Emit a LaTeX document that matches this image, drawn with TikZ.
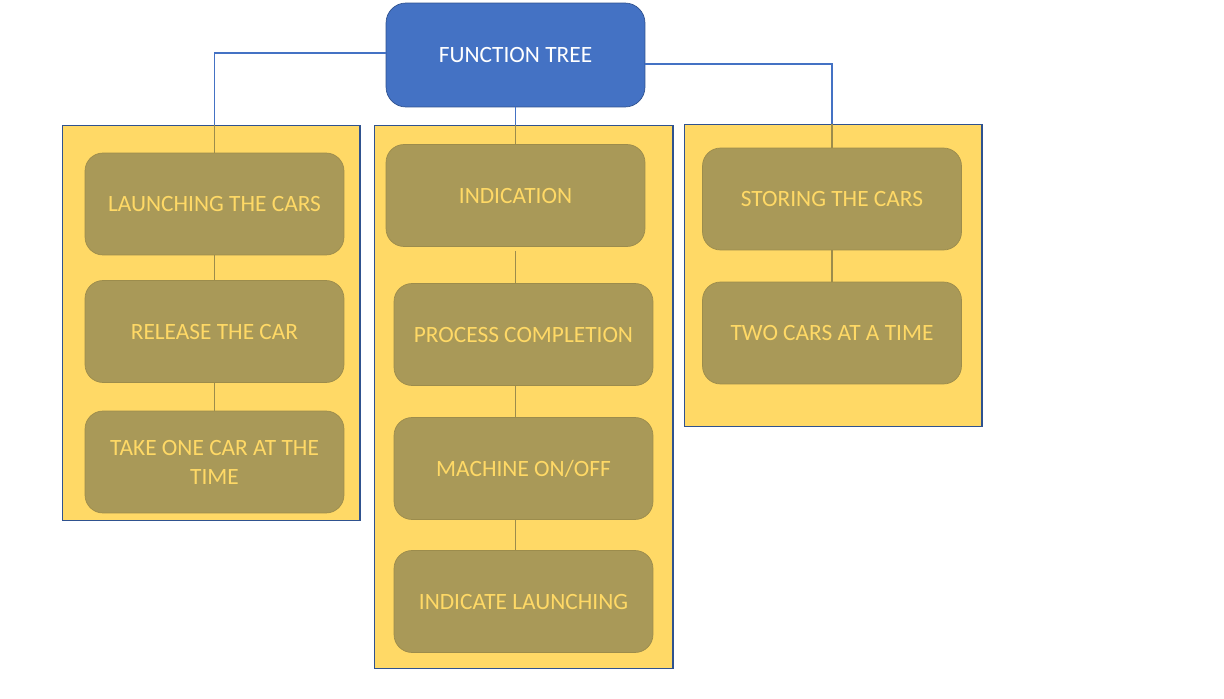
\documentclass[tikz,border=0pt]{standalone}
\usepackage{fontspec}
\setmainfont{Carlito}
\usepackage{tikz}
\usetikzlibrary{positioning, calc}

\definecolor{rootblue}{RGB}{68,114,196}
\definecolor{rootedge}{RGB}{47,82,143}
\definecolor{panelyellow}{RGB}{255,217,102}
\definecolor{boxolive}{RGB}{169,153,88}
\definecolor{boxedge}{RGB}{156,140,76}

\begin{document}
\begin{tikzpicture}[
  x=0.02cm, y=-0.02cm,
  font=\fontsize{13.3}{16.5}\selectfont,
  rootnode/.style={rectangle, rounded corners=0.4cm, draw=rootedge, fill=rootblue, text=white, minimum width=5.18cm, minimum height=2.08cm},
  panel/.style={rectangle, draw=rootedge, fill=panelyellow, semithick},
  funcnode/.style={rectangle, rounded corners=0.36cm, draw=boxedge, fill=boxolive, text=panelyellow, minimum width=5.18cm, minimum height=2.04cm, align=center},
  bluelink/.style={rootblue, semithick},
  olivelink/.style={boxedge, semithick}
]
\useasboundingbox (0,0) rectangle (1224,699);

% Panels
\node[panel, minimum width=5.96cm, minimum height=7.92cm] (lpanel) at (211,323) {};
\node[panel, minimum width=5.98cm, minimum height=10.88cm] (mpanel) at (523.5,397) {};
\node[panel, minimum width=5.96cm, minimum height=6.06cm] (rpanel) at (833,275.5) {};

% Root
\node[rootnode] (root) at (515.5,55) {FUNCTION TREE};

% Launching branch
\node[funcnode] (launch) at (214.5,204) {LAUNCHING THE CARS};
\node[funcnode] (release) at (214.5,331.5) {RELEASE THE CAR};
\node[funcnode] (takeone) at (214.5,462) {TAKE ONE CAR AT THE\\TIME};

% Indication branch
\node[funcnode] (indic) at (515.5,195.5) {INDICATION};
\node[funcnode] (process) at (523.5,334.5) {PROCESS COMPLETION};
\node[funcnode] (onoff) at (523.5,468.5) {MACHINE ON/OFF};
\node[funcnode] (indlaunch) at (523.5,601.5) {INDICATE LAUNCHING};

% Storing branch
\node[funcnode] (store) at (832,199) {STORING THE CARS};
\node[funcnode] (twocars) at (832,333) {TWO CARS AT A TIME};

% Links from root
\draw[bluelink] ([yshift=0.04cm]root.west) -| (lpanel.north -| launch.north);
\draw[bluelink] (root.south) -- (mpanel.north -| root.south);
\draw[bluelink] ([yshift=-0.18cm]root.east) -| (rpanel.north -| store.north);

\draw[olivelink] (lpanel.north -| launch.north) -- (launch.north);
\draw[olivelink] (mpanel.north -| indic.north) -- (indic.north);
\draw[olivelink] (rpanel.north -| store.north) -- (store.north);

% Links inside panels
\draw[olivelink] (launch.south) -- (release.north);
\draw[olivelink] (release.south) -- (takeone.north);
\draw[olivelink] ([yshift=-0.08cm]indic.south) -- (process.north -| indic.south);
\draw[olivelink] (process.south -| indic.south) -- (onoff.north -| indic.south);
\draw[olivelink] (onoff.south -| indic.south) -- (indlaunch.north -| indic.south);
\draw[olivelink] (store.south) -- (twocars.north);

\end{tikzpicture}
\end{document}
